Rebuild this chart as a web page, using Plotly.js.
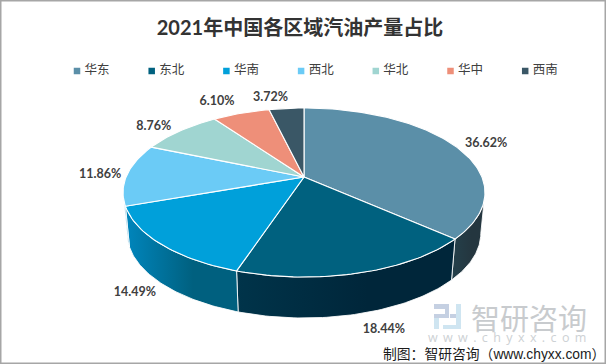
<!DOCTYPE html>
<html><head><meta charset="utf-8">
<script src="https://cdn.plot.ly/plotly-3.0.1.min.js"></script>
<style>html,body{margin:0;padding:0;background:#fff}#c{width:606px;height:364px}</style></head>
<body><div id="c"></div>
<script>
const regions=['华东','东北','华南','西北','华北','华中','西南'];
const shares=[36.62,18.44,14.49,11.86,8.76,6.10,3.72];
const topColors=['#5b8fa8','#00617f','#00a0da','#6bcbf6','#a0d5d1','#ee8f79','#3a5766'];
const wallLeft=['#24404b','#00344a','#0086bd','#4aa6cf','#7fb0ad','#c47563','#2e4753'];
const wallRight=['#24363f','#00263a','#00607f','#4aa6cf','#7fb0ad','#c47563','#2e4753'];
const labelOffsets=[[31,-2],[24,57],[-26,49],[-27,0],[-26,-4],[-24,-11],[-16,-11]];
const legendStart=77, legendStep=74.7, legendY=71;

// Projection of the tilted disc
const cx=304,cy=177,k=0.1834,a=81.66,b=177.9,depth=41,taper=0.977;
function proj(theta,r){r=r===undefined?1:r;
  const u=r*Math.sin(theta),v=-r*Math.cos(theta),d=1-k*v;
  return [cx+b*u/d,cy+a*v/d];}
function low(p){return [cx+(p[0]-cx)*taper,p[1]+depth];}
const total=shares.reduce((s,x)=>s+x,0);
let cum=0;const starts=[],ends=[];
shares.forEach(s=>{starts.push(cum/total*2*Math.PI);cum+=s;ends.push(cum/total*2*Math.PI);});
const wallMin=100.5*Math.PI/180,wallMax=259.5*Math.PI/180;

const traces=[];
regions.forEach((name,i)=>{
  const t0=Math.max(starts[i],wallMin),t1=Math.min(ends[i],wallMax);
  if(t1<=t0)return;
  const top=[],n=60;
  for(let j=0;j<=n;j++)top.push(proj(t0+(t1-t0)*j/n));
  const poly=top.concat(top.slice().reverse().map(low));poly.push(top[0]);
  traces.push({type:'scatter',mode:'lines',x:poly.map(p=>p[0]),y:poly.map(p=>p[1]),fill:'toself',
    fillgradient:{type:'horizontal',colorscale:[[0,wallLeft[i]],[0.6,wallRight[i]],[1,wallRight[i]]]},
    line:{color:'rgba(255,255,255,0.85)',width:1},showlegend:false,hoverinfo:'skip'});
});
regions.forEach((name,i)=>{
  const poly=[[cx,cy]],n=Math.max(8,Math.ceil(shares[i]*3));
  for(let j=0;j<=n;j++)poly.push(proj(starts[i]+(ends[i]-starts[i])*j/n));
  poly.push([cx,cy]);
  traces.push({type:'scatter',mode:'lines',x:poly.map(p=>p[0]),y:poly.map(p=>p[1]),fill:'toself',
    fillcolor:topColors[i],line:{color:'#fff',width:1.1},name:name,showlegend:false,hoverinfo:'name'});
});
// legend
traces.push({type:'scatter',mode:'markers+text',x:regions.map((_,i)=>legendStart+legendStep*i),
  y:regions.map(()=>legendY),text:regions.map(r=>'\u2009'+r),textposition:'middle right',
  marker:{symbol:'square',size:6.5,color:topColors},
  textfont:{family:'"Noto Sans CJK SC"',size:12.5,color:'#404040'},showlegend:false,hoverinfo:'skip'});
// data labels
traces.push({type:'scatter',mode:'text',
  x:shares.map((s,i)=>proj((starts[i]+ends[i])/2)[0]+labelOffsets[i][0]),
  y:shares.map((s,i)=>proj((starts[i]+ends[i])/2)[1]+labelOffsets[i][1]),
  text:shares.map(s=>s.toFixed(2)+'%'),textposition:'middle center',
  textfont:{family:'Lato',size:12.5,weight:700,color:'#404040'},showlegend:false,hoverinfo:'skip'});

const logoBlue='#cfe5f1', logoGrey='#c5d0e2';
function bar(x0,y0,x1,y1,c){return {type:'rect',xref:'x',yref:'y',x0,y0,x1,y1,fillcolor:c,line:{width:0},layer:'below'};}
const layout={width:606,height:364,margin:{l:0,r:0,t:0,b:0},paper_bgcolor:'#fff',plot_bgcolor:'#fff',showlegend:false,
  xaxis:{range:[0,606],visible:false,fixedrange:true},
  yaxis:{range:[364,0],visible:false,fixedrange:true},
  title:{text:'<b>2021年中国各区域汽油产量占比</b>',x:0.495,xanchor:'center',y:0.923,yanchor:'middle',
    font:{family:'Lato, "Noto Sans CJK SC"',size:20,color:'#333333'}},
  shapes:[{type:'rect',xref:'paper',yref:'paper',x0:0,x1:1,y0:0,y1:1,line:{color:'#a6a6a6',width:3},fillcolor:'rgba(0,0,0,0)'},
    bar(434,304,449,309,logoGrey),bar(445,304,449,318,logoGrey),bar(434,314,449,318,logoGrey),
    bar(434,318,439,329,logoBlue),bar(456,304,461,329,logoBlue),bar(443,325,461,329,logoBlue),bar(450,314,456,318,logoGrey)],
  annotations:[
   {x:528.5,y:317,xref:'x',yref:'y',text:'智研咨询',showarrow:false,font:{family:'"Noto Sans CJK SC"',size:29,color:'#c8cbce'}},
   {x:510,y:337,xref:'x',yref:'y',text:'www.chyxx.com',showarrow:false,font:{family:'"Open Sans"',size:12.5,color:'#cdd1d4'}},
   {x:494,y:353,xref:'x',yref:'y',text:'制图：智研咨询（<span style="font-family:Liberation Sans">www.chyxx.com</span>）',showarrow:false,font:{family:'"Noto Sans CJK SC"',size:13.8,color:'#1a1a1a'}}
  ]};
Plotly.newPlot('c',traces,layout,{displayModeBar:false,staticPlot:true}).then(()=>{
  const t=document.querySelectorAll('.annotation-text')[1];
  if(t)t.style.letterSpacing='5.4px';
});
</script></body></html>
